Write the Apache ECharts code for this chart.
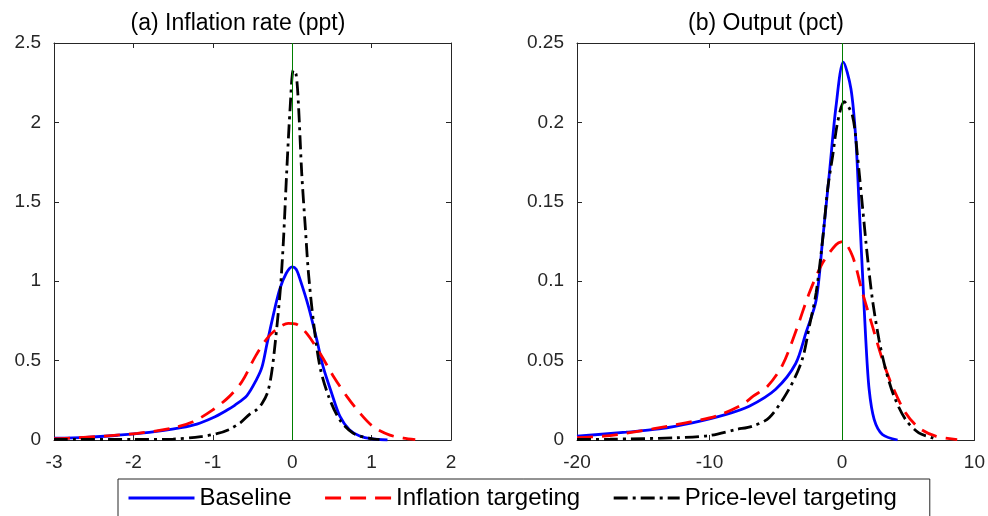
<!DOCTYPE html>
<html>
<head>
<meta charset="utf-8">
<script src="https://cdn.jsdelivr.net/npm/echarts@6/dist/echarts.min.js"></script>
<style>
  html, body { margin: 0; padding: 0; background: #fff; }
  #chart { width: 988px; height: 516px; }
</style>
</head>
<body>
<div id="chart"></div>
<script>
// (a) 通胀率密度  [x, 密度]
var inflBaseline = [[-3,0.011],[-2.6,0.017],[-2.2,0.03],[-1.8,0.048],[-1.4,0.078],[-1.2,0.1],[-1.0,0.14],[-0.85,0.18],[-0.72,0.22],[-0.57,0.28],[-0.45,0.38],[-0.38,0.46],[-0.32,0.6],[-0.25,0.76],[-0.16,0.945],[-0.075,1.05],[0.0,1.09],[0.05,1.075],[0.1,1.01],[0.205,0.84],[0.31,0.63],[0.39,0.46],[0.5,0.29],[0.6,0.15],[0.72,0.065],[0.85,0.025],[1.0,0.007],[1.2,0.0]];
var inflIT = [[-3,0.008],[-2.8,0.012],[-2.36,0.025],[-1.95,0.042],[-1.53,0.073],[-1.25,0.115],[-1.0,0.19],[-0.8,0.27],[-0.63,0.37],[-0.46,0.53],[-0.3,0.65],[-0.15,0.715],[-0.05,0.735],[0.05,0.73],[0.185,0.67],[0.35,0.546],[0.52,0.40],[0.69,0.273],[0.855,0.168],[1.02,0.084],[1.23,0.031],[1.4,0.012],[1.55,0.003]];
var inflPLT = [[-3,0.004],[-2,0.003],[-1.5,0.006],[-1.15,0.021],[-0.95,0.04],[-0.8,0.065],[-0.65,0.11],[-0.53,0.165],[-0.45,0.19],[-0.38,0.23],[-0.31,0.3],[-0.26,0.42],[-0.21,0.63],[-0.15,0.945],[-0.11,1.26],[-0.07,1.68],[-0.025,2.1],[0.015,2.33],[0.05,2.3],[0.08,2.1],[0.12,1.68],[0.165,1.34],[0.205,1.05],[0.27,0.735],[0.35,0.46],[0.46,0.273],[0.6,0.126],[0.77,0.042],[0.98,0.01],[1.1,0.002]];

// (b) 产出密度
var outBaseline = [[-20,0.0024],[-16.3,0.0049],[-13.8,0.007],[-11.3,0.0108],[-8.8,0.016],[-7,0.0213],[-5,0.032],[-3.5,0.048],[-2.7,0.068],[-1.95,0.088],[-1.46,0.126],[-0.95,0.168],[-0.45,0.21],[0.1,0.238],[0.68,0.221],[1.05,0.189],[1.3,0.147],[1.55,0.105],[1.8,0.063],[2.05,0.032],[2.43,0.013],[3.05,0.0035],[4.2,0.0]];
var outIT = [[-20,0.0015],[-17.5,0.0028],[-14.3,0.007],[-11.8,0.0108],[-9.5,0.015],[-7.5,0.0224],[-6.7,0.0276],[-5.6,0.034],[-4.5,0.047],[-3.5,0.068],[-2.46,0.0927],[-1.46,0.1115],[-0.45,0.123],[0.05,0.125],[0.8,0.1157],[1.55,0.0927],[2.3,0.0717],[3.05,0.0507],[3.8,0.034],[4.8,0.0171],[5.8,0.0077],[7.07,0.0024],[8.7,0.0003]];
var outPLT = [[-20,0.0003],[-17.5,0.0005],[-12.5,0.0014],[-10,0.0028],[-8,0.0066],[-6.77,0.0087],[-5.5,0.014],[-4,0.032],[-3,0.0507],[-2.46,0.0717],[-1.95,0.0927],[-1.46,0.126],[-1.08,0.158],[-0.7,0.179],[-0.33,0.2],[0.17,0.213],[0.8,0.204],[1.17,0.179],[1.55,0.147],[1.92,0.1157],[2.3,0.0885],[2.8,0.063],[3.3,0.0444],[3.93,0.0276],[4.8,0.0129],[5.8,0.0045],[6.8,0.0014],[7.2,0.0]];

var seriesNames = ['Baseline', 'Inflation targeting', 'Price-level targeting'];
var panelTitles = ['(a) Inflation rate (ppt)', '(b) Output (pct)'];

var FONT = 'Liberation Sans';
var AXIS_COLOR = '#262626';

var myChart = echarts.init(document.getElementById('chart'));

/**
 * 坐标轴 (带框, 刻度朝内)
 */
function makeAxis(gridIndex, position, min, max, interval, showLabel){
	return {
		type: 'value',
		gridIndex: gridIndex,
		position: position,
		min: min,
		max: max,
		interval: interval,
		splitLine: { show: false },
		axisLine: { show: true, onZero: false, lineStyle: { color: AXIS_COLOR, width: 1 } },
		axisTick: { show: true, inside: true, length: 5, lineStyle: { color: AXIS_COLOR } },
		axisLabel: { show: showLabel, color: AXIS_COLOR, fontFamily: FONT, fontSize: 19, margin: 13 }
	};
}

var lineStyles = [
	{ color: '#0000ff', width: 2.8, type: 'solid' },
	{ color: '#ff0000', width: 2.8, type: [16, 9] },
	{ color: '#000000', width: 2.8, type: [14, 5, 3, 5] }
];

function makeSeries(idx, axisIndex, data, withZeroLine){
	var s = {
		name: seriesNames[idx],
		type: 'line',
		xAxisIndex: axisIndex,
		yAxisIndex: axisIndex,
		data: data,
		symbol: 'circle',
		showSymbol: false,
		smooth: 0.3,
		color: lineStyles[idx].color,
		lineStyle: lineStyles[idx]
	};
	if(withZeroLine){
		s.markLine = {
			silent: true,
			symbol: 'none',
			label: { show: false },
			lineStyle: { color: '#008000', width: 1, type: 'solid' },
			data: [{ xAxis: 0 }]
		};
	}
	return s;
}

var option = {
	animation: false,
	backgroundColor: '#fff',
	title: [
		{ text: panelTitles[0], left: 238, top: 12, textAlign: 'center', padding: 0,
		  textStyle: { fontFamily: FONT, fontSize: 23, fontWeight: 'normal', color: '#000' } },
		{ text: panelTitles[1], left: 766, top: 12, textAlign: 'center', padding: 0,
		  textStyle: { fontFamily: FONT, fontSize: 23, fontWeight: 'normal', color: '#000' } }
	],
	grid: [
		{ left: 54, top: 43, width: 397, height: 397 },
		{ left: 577, top: 43, width: 399, height: 397 }
	],
	xAxis: [
		makeAxis(0, 'bottom', -3, 2, 1, true),
		makeAxis(0, 'top', -3, 2, 1, false),
		makeAxis(1, 'bottom', -20, 10, 10, true),
		makeAxis(1, 'top', -20, 10, 10, false)
	],
	yAxis: [
		makeAxis(0, 'left', 0, 2.5, 0.5, true),
		makeAxis(0, 'right', 0, 2.5, 0.5, false),
		makeAxis(1, 'left', 0, 0.25, 0.05, true),
		makeAxis(1, 'right', 0, 0.25, 0.05, false)
	],
	legend: {
		data: seriesNames,
		left: 118,
		top: 479,
		orient: 'horizontal',
		padding: [7, 33, 10, 9],
		itemGap: 32,
		itemWidth: 66,
		itemHeight: 14,
		backgroundColor: '#fff',
		borderColor: AXIS_COLOR,
		borderWidth: 1,
		borderRadius: 0,
		// 图例只画线, 隐藏圆点
		itemStyle: { opacity: 0 },
		lineStyle: { width: 3 },
		textStyle: { fontFamily: FONT, fontSize: 24, color: '#000' }
	},
	series: [
		makeSeries(0, 0, inflBaseline, true),
		makeSeries(1, 0, inflIT, false),
		makeSeries(2, 0, inflPLT, false),
		makeSeries(0, 2, outBaseline, true),
		makeSeries(1, 2, outIT, false),
		makeSeries(2, 2, outPLT, false)
	]
};

myChart.setOption(option);
window.onresize = myChart.resize;
</script>
</body>
</html>
